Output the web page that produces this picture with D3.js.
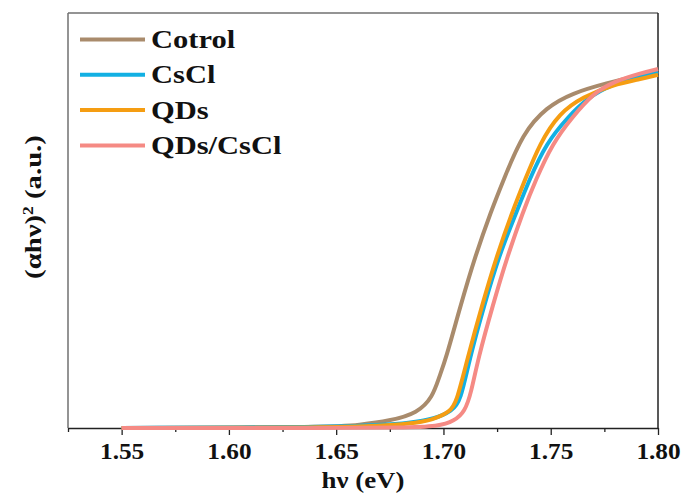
<!DOCTYPE html>
<html>
<head>
<meta charset="utf-8">
<script src="https://cdn.jsdelivr.net/npm/d3@7"></script>
<style>
  body { margin: 0; background: #fff; }
  text { font-family: "Liberation Serif", Tinos, "Times New Roman", Times, serif; font-weight: bold; fill: #111; }
</style>
</head>
<body>
<div id="chart"></div>
<script>
var seriesNames = ["Cotrol", "CsCl", "QDs", "QDs/CsCl"];
var seriesColors = ["#a98b6c", "#12b0e3", "#f59d12", "#f58a84"];

var xTicks = [1.55, 1.60, 1.65, 1.70, 1.75, 1.80];

// photon energy (eV) and (ahv)^2 in a.u.
var cotrolE = [1.55, 1.65, 1.66, 1.675, 1.688, 1.695, 1.698, 1.701, 1.708, 1.715, 1.722, 1.728, 1.737, 1.748, 1.760, 1.776, 1.792, 1.80];
var cotrolY = [0, 0.002, 0.007, 0.017, 0.036, 0.075, 0.123, 0.164, 0.296, 0.417, 0.520, 0.598, 0.711, 0.773, 0.807, 0.831, 0.851, 0.860];

var csclE = [1.55, 1.65, 1.670, 1.684, 1.696, 1.704, 1.708, 1.712, 1.719, 1.726, 1.734, 1.740, 1.748, 1.758, 1.767, 1.779, 1.792, 1.80];
var csclY = [0, 0.002, 0.007, 0.012, 0.022, 0.041, 0.065, 0.164, 0.296, 0.417, 0.520, 0.598, 0.687, 0.749, 0.795, 0.829, 0.848, 0.858];

var qdsE = [1.55, 1.65, 1.670, 1.684, 1.695, 1.703, 1.706, 1.711, 1.718, 1.725, 1.732, 1.738, 1.745, 1.754, 1.765, 1.779, 1.792, 1.80];
var qdsY = [0, 0.001, 0.005, 0.010, 0.019, 0.039, 0.060, 0.164, 0.296, 0.417, 0.520, 0.598, 0.687, 0.759, 0.798, 0.827, 0.841, 0.851];

var qdsCsclE = [1.55, 1.65, 1.680, 1.698, 1.705, 1.710, 1.713, 1.716, 1.723, 1.730, 1.737, 1.743, 1.751, 1.760, 1.770, 1.779, 1.792, 1.80];
var qdsCsclY = [0, 0, 0.001, 0.004, 0.017, 0.039, 0.087, 0.164, 0.296, 0.417, 0.520, 0.598, 0.687, 0.749, 0.807, 0.834, 0.855, 0.865];

var margin = {top: 13, right: 30, bottom: 70, left: 68},
    width = 688 - margin.left - margin.right,
    height = 498 - margin.top - margin.bottom;

var x = d3.scaleLinear().domain([1.525, 1.80]).range([0, width]);
var y = d3.scaleLinear().domain([0, 1]).range([height, 0]);

var svg = d3.select("#chart")
    .append("svg")
    .attr("width", 688)
    .attr("height", 498)
    .append("g")
    .attr("transform", "translate(" + margin.left + "," + margin.top + ")");

// frame: top + left grey, right + bottom dark
svg.append("line").attr("x1", 0).attr("x2", width).attr("y1", 0).attr("y2", 0)
    .style("stroke", "#707070").style("stroke-width", 1.5);
svg.append("line").attr("x1", 0).attr("x2", 0).attr("y1", 0).attr("y2", height)
    .style("stroke", "#707070").style("stroke-width", 1.5);
svg.append("line").attr("x1", width).attr("x2", width).attr("y1", 0).attr("y2", height)
    .style("stroke", "#222").style("stroke-width", 1.5);

// minor ticks
var xMinor = d3.axisBottom(x)
    .tickValues(d3.range(1.525, 1.81, 0.05))
    .tickSize(4)
    .tickFormat("");
svg.append("g")
    .attr("class", "x axis minor")
    .attr("transform", "translate(0," + height + ")")
    .call(xMinor)
    .call(function(g) { g.select(".domain").remove(); })
    .selectAll("line").style("stroke", "#222").style("stroke-width", 1.3);

var xAxis = d3.axisBottom(x)
    .tickValues(xTicks)
    .tickSize(7)
    .tickSizeOuter(0)
    .tickPadding(8)
    .tickFormat(d3.format(".2f"));

var gx = svg.append("g")
    .attr("class", "x axis")
    .attr("transform", "translate(0," + height + ")")
    .call(xAxis);
gx.select(".domain").style("stroke", "#222").style("stroke-width", 1.5);
gx.selectAll("line").style("stroke", "#222").style("stroke-width", 1.3);
gx.selectAll("text")
    .style("font-size", "23px")
    .style("font-family", "'Liberation Serif', Tinos, 'Times New Roman', serif")
    .attr("transform", "scale(1.1,1)");

// lines
var allE = [cotrolE, csclE, qdsE, qdsCsclE];
var allY = [cotrolY, csclY, qdsY, qdsCsclY];

var valueline = d3.line()
    .x(function(d) { return x(d[0]); })
    .y(function(d) { return y(d[1]); })
    .curve(d3.curveBasis);

var drawOrder = [0, 1, 2, 3];
drawOrder.forEach(function(i) {
    var pts = allE[i].map(function(e, j) { return [e, allY[i][j]]; });
    svg.append("path")
        .attr("class", "line")
        .attr("d", valueline(pts))
        .style("fill", "none")
        .style("stroke", seriesColors[i])
        .style("stroke-width", 4)
        .style("stroke-linejoin", "round");
});

// legend
var legend = svg.append("g").attr("transform", "translate(12,26.5)");
seriesNames.forEach(function(name, i) {
    var row = legend.append("g").attr("transform", "translate(0," + (i * 35.3) + ")");
    row.append("line")
        .attr("x1", 0).attr("x2", 65)
        .style("stroke", seriesColors[i])
        .style("stroke-width", 4);
    row.append("text")
        .attr("x", 0)
        .attr("y", 8.5)
        .attr("transform", "translate(71,0) scale(1.22,1)")
        .style("font-size", "25px")
        .text(name);
});

// axis titles
svg.append("text")
    .attr("x", 0)
    .attr("y", 0)
    .attr("transform", "translate(" + (width / 2) + "," + (height + 60) + ") scale(1.12,1)")
    .style("text-anchor", "middle")
    .style("font-size", "24px")
    .text("h\u03bd (eV)");

var ytitle = svg.append("text")
    .attr("transform", "translate(" + (-27) + "," + 194 + ") rotate(-90) scale(1.25,1)")
    .style("text-anchor", "middle")
    .style("font-size", "23px");
ytitle.append("tspan").text("(\u03b1h\u03bd)");
ytitle.append("tspan").attr("dy", "-8").style("font-size", "14px").text("2");
ytitle.append("tspan").attr("dy", "8").text(" (a.u.)");
</script>
</body>
</html>
